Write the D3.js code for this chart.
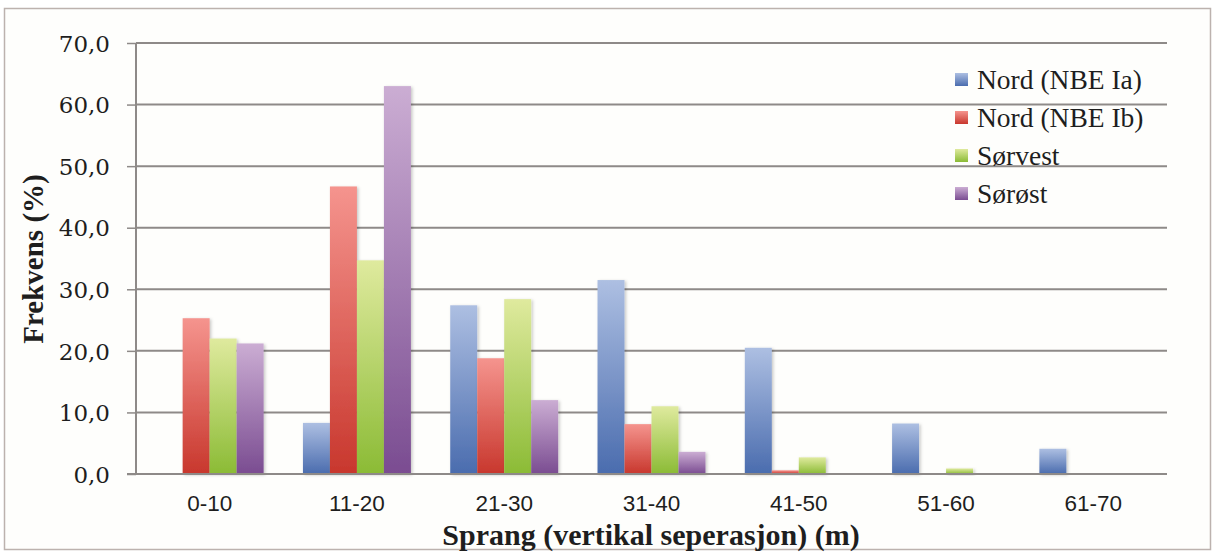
<!DOCTYPE html>
<html>
<head>
<meta charset="utf-8">
<script src="https://cdn.jsdelivr.net/npm/d3@7"></script>
<style>
  html, body { margin: 0; padding: 0; background: #ffffff; }
  svg { display: block; }
</style>
</head>
<body>
<svg id="chart" width="1216" height="553"></svg>
<script>
// ---- data ----
const categories = ["0-10", "11-20", "21-30", "31-40", "41-50", "51-60", "61-70"];
const seriesNames = ["Nord (NBE Ia)", "Nord (NBE Ib)", "Sørvest", "Sørøst"];
const nordIa = [0, 8.3, 27.4, 31.5, 20.5, 8.2, 4.1];
const nordIb = [25.3, 46.7, 18.8, 8.1, 0.6, 0, 0];
const sorvest = [22.0, 34.7, 28.4, 11.0, 2.7, 0.9, 0];
const sorost = [21.2, 63.0, 12.0, 3.6, 0, 0, 0];
const yTicks = [0, 10, 20, 30, 40, 50, 60, 70];
const xTitle = "Sprang (vertikal seperasjon) (m)";
const yTitle = "Frekvens (%)";

const seriesValues = [nordIa, nordIb, sorvest, sorost];
const colors = [
  { top: "#adbfe2", bottom: "#4a6cae" },
  { top: "#f5948e", bottom: "#c8372d" },
  { top: "#dfea9e", bottom: "#8bbb35" },
  { top: "#cbadd3", bottom: "#7a4c91" }
];

const svg = d3.select("#chart");

// frame
svg.append("rect").attr("x", 4.5).attr("y", 8.5).attr("width", 1206).attr("height", 541)
  .attr("fill", "#fefefc").attr("stroke", "#bcb2ae").attr("stroke-width", 1.5);

const defs = svg.append("defs");
colors.forEach((c, i) => {
  const g = defs.append("linearGradient").attr("id", "grad" + i)
    .attr("x1", 0).attr("y1", 0).attr("x2", 0).attr("y2", 1);
  g.append("stop").attr("offset", "0%").attr("stop-color", c.top);
  g.append("stop").attr("offset", "100%").attr("stop-color", c.bottom);
});
const f = defs.append("filter").attr("id", "shadow").attr("x", "-20%").attr("y", "-20%").attr("width", "150%").attr("height", "150%");
f.append("feDropShadow").attr("dx", 1.5).attr("dy", 1).attr("stdDeviation", 1.5)
  .attr("flood-color", "#000").attr("flood-opacity", 0.22);

const plot = { left: 136, right: 1167, top: 43, bottom: 474 };

const x0 = d3.scaleBand().domain(categories).range([plot.left, plot.right])
  .paddingInner(0.267).paddingOuter(0.1335);
const x1 = d3.scaleBand().domain(d3.range(seriesNames.length)).range([0, x0.bandwidth()]).padding(0);
const y = d3.scaleLinear().domain([0, 70]).range([plot.bottom, plot.top]);

// gridlines
svg.append("g").selectAll("line").data(yTicks.filter(t => t > 0)).join("line")
  .attr("x1", plot.left).attr("x2", plot.right)
  .attr("y1", d => y(d)).attr("y2", d => y(d))
  .attr("stroke", "#8e8a88").attr("stroke-width", 2);

// y axis
const yAxis = svg.append("g").attr("transform", `translate(${plot.left},0)`)
  .call(d3.axisLeft(y).tickValues(yTicks).tickSize(9).tickPadding(17)
    .tickFormat(d => d3.format(".1f")(d).replace(".", ",")));
yAxis.select(".domain").attr("stroke", "#8e8a88").attr("stroke-width", 2).attr("d", `M0,${plot.top}V${plot.bottom}`);
yAxis.selectAll(".tick line").attr("stroke", "#8e8a88").attr("stroke-width", 1.5);
yAxis.selectAll(".tick text").attr("font-family", "'DejaVu Serif', serif").attr("font-size", 23)
  .attr("fill", "#1e1e1e").attr("dy", "0.36em");

// bars
const groups = svg.append("g").selectAll("g").data(categories).join("g")
  .attr("transform", d => `translate(${x0(d)},0)`);
groups.selectAll("rect")
  .data((cat, ci) => seriesValues.map((vals, si) => ({ si, v: vals[ci] })).filter(d => d.v > 0))
  .join("rect")
  .attr("x", d => x1(d.si))
  .attr("width", x1.bandwidth())
  .attr("y", d => y(d.v))
  .attr("height", d => y(0) - y(d.v))
  .attr("fill", d => `url(#grad${d.si})`)
  .attr("filter", "url(#shadow)");

// x axis baseline
svg.append("line").attr("x1", plot.left - 9).attr("x2", plot.right)
  .attr("y1", plot.bottom).attr("y2", plot.bottom)
  .attr("stroke", "#8e8a88").attr("stroke-width", 2);

const xAxis = svg.append("g").attr("transform", `translate(0,${plot.bottom})`)
  .call(d3.axisBottom(x0).tickSize(0).tickPadding(21));
xAxis.select(".domain").remove();
xAxis.selectAll(".tick text").attr("font-family", "'Liberation Sans', Arial, sans-serif")
  .attr("font-size", 22.5).attr("fill", "#1e1e1e");

// axis titles
svg.append("text").attr("x", 651).attr("y", 545).attr("text-anchor", "middle")
  .attr("font-family", "'Liberation Serif', serif").attr("font-weight", "bold")
  .attr("font-size", 30).attr("fill", "#1e1e1e").text(xTitle);
svg.append("text").attr("transform", "translate(43,259) rotate(-90)").attr("text-anchor", "middle")
  .attr("font-family", "'Liberation Serif', serif").attr("font-weight", "bold")
  .attr("font-size", 29).attr("fill", "#1e1e1e").text(yTitle);

// legend
const legend = svg.append("g").attr("transform", "translate(955,80)");
const items = legend.selectAll("g").data(seriesNames).join("g")
  .attr("transform", (d, i) => `translate(0,${i * 38})`);
items.append("rect").attr("x", 0).attr("y", -7).attr("width", 13).attr("height", 13)
  .attr("fill", (d, i) => `url(#grad${i})`);
items.append("text").attr("x", 22).attr("y", 0).attr("dy", "0.33em")
  .attr("font-family", "'Liberation Serif', serif").attr("font-size", 27.5).attr("fill", "#1e1e1e")
  .text(d => d);
</script>
</body>
</html>
